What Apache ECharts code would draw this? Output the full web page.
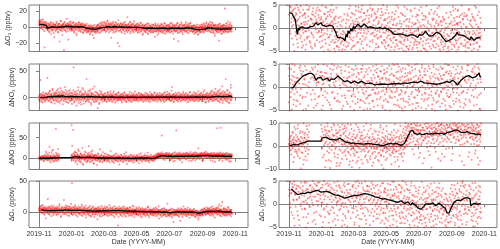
<!DOCTYPE html>
<html><head><meta charset="utf-8">
<script src="https://cdn.jsdelivr.net/npm/echarts@6/dist/echarts.min.js"></script>
<style>html,body{margin:0;padding:0;background:#fff}#c{width:500px;height:249px}</style>
</head><body><div id="c"></div>
<script>
// x positions are days since 2019-11-01
const tickDays = [0, 61, 121, 182, 243, 305, 366];
const tickLabels = ['2019-11', '2020-01', '2020-03', '2020-05', '2020-07', '2020-09', '2020-11'];
const sampleStepDays = 0.75;   // batch A at i*step, batch B at (i+0.5)*step

const o3Points = [
5.2,8.1,3.4,6.7,-1.2,4.5,9.3,2.1,0.4,7.2,3.8,-3.5,5.9,1.6,-25.1,4.3,2.7,-0.8,6.1,3.0,
-2.4,1.8,-4.1,0.6,3.9,-1.3,-6.2,2.5,-0.4,4.8,-8.3,1.1,-2.9,0.2,5.6,-3.7,-1.0,2.9,-12.4,0.8,
3.3,-4.6,1.4,-0.7,6.8,-2.2,0.9,-5.5,2.6,-1.8,4.1,-17.6,0.3,-3.1,2.0,7.4,-0.9,1.7,-4.3,3.6,
-1.5,2.8,-28.2,5.1,0.5,-3.8,3.2,-0.2,1.9,10.6,-2.6,4.4,-5.1,1.2,2.3,-0.6,6.3,-1.9,3.7,0.1,
-4.2,2.4,0.8,-2.7,5.4,-0.3,1.5,-6.4,3.1,-1.1,0.7,4.6,-3.3,2.2,-9.8,1.0,-0.5,3.5,-2.0,6.0,
0.6,-3.6,2.9,-1.4,4.0,-5.8,1.3,-0.1,3.4,-2.5,-7.1,0.9,2.1,-4.4,1.8,-1.7,-3.0,2.6,-6.6,-0.8,
-3.9,0.4,-5.2,-1.6,2.2,-4.7,-2.3,-8.9,0.7,-3.4,-1.2,-6.0,1.5,-2.8,-4.5,-0.6,-13.2,-2.1,3.0,-5.6,
-2.6,-7.3,0.2,-4.0,1.9,-1.5,-5.3,2.7,-0.9,-3.2,4.2,-1.8,0.5,-6.1,2.3,-2.4,5.7,-0.3,-4.1,1.6,
3.1,-2.0,0.8,6.4,-3.7,1.4,-0.6,4.7,-5.0,2.0,-1.3,8.2,0.3,-2.9,3.6,-0.2,1.1,-4.6,5.3,-1.0,
2.4,-3.4,0.6,4.9,-1.7,-6.8,1.8,3.3,-0.5,-2.4,6.1,0.2,-4.9,2.7,-1.2,1.0,-19.3,3.9,-0.7,2.1,
-23.4,1.5,-2.8,4.3,0.1,-5.4,2.5,-1.1,3.8,-3.0,0.7,5.6,-1.6,-7.7,1.9,-0.3,3.0,-4.2,2.2,-1.4,
12.3,-2.2,0.9,4.1,-3.9,1.2,-0.8,6.7,-5.7,2.8,-1.9,0.4,3.5,-3.3,-0.2,5.0,-6.3,1.7,-2.6,2.0,
-1.0,3.2,-4.4,0.6,-2.1,4.6,-6.9,1.1,-0.7,-3.6,2.4,-1.5,5.2,-4.8,0.0,-2.7,1.9,-9.4,3.4,-1.2,
-3.1,0.8,-5.6,-1.9,2.1,-4.0,-0.6,3.7,-2.5,-7.2,1.0,-3.8,-1.1,4.4,-5.1,-0.2,-2.9,1.6,-6.4,-1.7,
0.3,-4.3,-2.0,3.0,-6.0,-0.9,-3.5,1.4,-11.8,-2.4,2.6,-5.0,-1.3,0.5,-3.9,4.1,-2.2,-7.5,0.0,-4.6,
-1.6,2.0,-5.3,-0.4,-3.0,3.6,-6.7,-1.0,1.2,-4.2,-2.1,5.3,-3.6,-0.7,-8.1,0.9,-2.8,2.5,-5.9,-1.4,
-2.9,1.7,-4.9,0.2,-3.3,3.9,-1.2,-6.5,0.6,-2.3,4.5,-5.4,-0.8,1.9,-3.7,-14.6,2.7,-1.9,-4.4,0.4,
-0.6,-4.7,2.3,-2.6,5.1,-7.0,-17.2,1.0,-3.2,-0.3,3.4,-5.2,-1.7,0.8,-2.4,4.0,-6.1,-1.0,2.1,-3.6,
-1.8,3.1,-4.0,0.5,-2.7,6.2,-5.6,-0.4,1.6,-3.4,2.9,-1.2,-7.4,0.9,-2.0,4.7,-4.5,-0.7,1.3,-3.0,
-2.5,0.6,-5.5,-1.6,2.4,-4.1,-7.9,-0.9,1.8,-3.8,-6.2,0.1,-2.2,3.3,-5.0,-1.3,-8.7,0.4,-3.9,-2.7,
-4.8,0.9,-2.9,3.5,-6.3,-1.0,1.4,-3.5,-0.2,4.6,-5.3,-1.9,2.2,-4.0,0.7,-2.4,5.8,-1.5,-3.2,1.1,
-0.4,3.7,-4.6,1.2,-2.2,6.5,-1.0,-5.9,2.8,-3.3,0.3,4.9,-6.8,-1.6,2.0,-3.8,0.9,-10.5,3.2,-2.5,
-1.1,-5.0,2.6,-3.1,0.2,-6.6,1.9,-16.9,-2.0,4.2,-4.3,-0.8,1.5,-3.6,-7.3,0.6,-2.6,3.0,-5.4,-1.3,
2.3,-3.4,23.1,-1.0,-5.7,1.6,-2.1,4.4,-6.1,-0.5,-3.0,2.8,-4.7,0.0,-1.8,5.5,-3.9,-0.9,-2.4,1.2
];
const o3PointsB = [
2.9,6.4,-0.5,4.8,7.7,1.3,3.6,-2.2,5.5,9.8,0.7,4.1,2.4,-4.9,6.9,1.9,-1.6,3.2,5.0,-0.3,
1.5,-3.2,4.4,-0.9,2.0,-5.1,0.5,3.4,-2.1,6.3,-1.6,0.9,-4.2,2.7,-0.3,4.0,-7.0,1.3,-2.5,3.1,
-0.6,2.3,-3.5,5.0,0.1,-1.9,3.9,-6.4,1.6,-0.5,4.6,-2.8,0.6,7.9,-4.0,2.1,-1.2,3.0,-9.7,1.0,
4.3,-2.0,1.1,6.6,-3.4,2.5,0.0,-5.7,3.8,1.4,-1.0,5.2,-15.5,2.9,-0.8,4.0,-3.0,1.8,7.0,-1.7,
2.0,-0.9,4.9,-3.9,1.2,-1.5,6.0,-5.0,0.6,3.0,-2.4,1.9,-7.8,4.4,0.0,-1.3,2.6,-4.6,5.6,0.8,
-1.9,3.6,-4.9,0.9,2.5,-2.9,5.0,-0.6,1.5,-6.2,0.2,3.9,-3.1,-0.4,2.3,-5.0,1.0,-2.3,4.4,-3.8,
-0.8,-6.3,-2.7,1.3,-4.1,-0.2,-7.4,-1.8,2.5,-5.3,-3.0,0.4,-4.9,-9.6,-1.4,1.9,-3.6,-0.9,-5.8,-2.4,
-4.6,-1.2,1.0,-5.9,-2.9,3.1,-0.6,-3.8,1.7,-7.0,0.2,-2.0,4.8,-1.2,0.9,-4.5,3.3,-0.7,6.0,-2.7,
1.0,-3.8,5.1,-0.4,2.9,-5.9,0.8,3.8,-1.8,7.0,-3.1,1.4,-0.9,4.5,-6.5,2.3,0.1,-2.3,3.5,-13.0,
-0.4,4.1,-2.8,1.5,6.8,-4.3,0.9,-1.0,3.2,-6.0,2.0,5.2,-2.0,0.5,-3.6,3.6,-0.2,8.7,-5.1,1.3,
2.8,-3.9,0.4,5.0,-1.3,-6.9,2.9,0.1,-2.5,4.1,-0.9,1.6,-4.8,3.3,6.9,-1.8,0.6,-3.4,2.5,-5.8,
-0.6,3.6,-4.1,1.5,-2.0,5.8,-0.3,-7.4,2.2,-1.6,4.2,-3.0,0.8,-5.2,2.9,-0.9,7.6,-2.5,0.3,-4.0,
1.7,-3.0,-0.5,4.0,-5.5,2.1,-1.6,-3.8,3.3,0.2,-6.2,1.4,-2.3,5.6,-0.8,-4.1,2.5,-1.2,-7.9,0.7,
-2.1,1.8,-4.7,-0.7,3.0,-6.1,-2.6,0.6,-3.4,4.9,-1.3,-8.6,-0.2,2.4,-4.4,-1.6,1.0,-5.5,-2.9,3.3,
-3.2,0.9,-6.4,-1.1,2.8,-4.8,-0.3,-2.7,4.6,-5.6,-1.9,1.7,-3.9,-0.6,-9.2,2.0,-2.6,-4.4,0.5,-1.4,
1.4,-3.7,-0.9,3.9,-5.6,-2.0,0.4,-4.6,2.6,-1.2,-7.0,0.8,-3.1,4.3,-2.4,-5.2,1.1,-0.5,-3.6,2.9,
-4.2,-0.2,2.8,-6.0,-1.6,1.3,-3.0,5.4,-2.2,-4.9,0.3,-1.0,3.2,-7.8,-2.8,0.7,-4.3,1.9,-0.9,-5.7,
2.6,-3.3,-1.1,4.8,-5.0,0.1,-2.3,1.5,-6.9,-0.6,3.0,-3.9,-1.4,6.0,-4.4,0.4,-2.0,-8.5,1.8,-0.9,
-2.8,2.0,-5.3,0.0,3.6,-1.6,-4.2,1.1,-0.3,-6.6,4.3,-2.3,0.6,-3.8,2.4,-1.1,5.4,-4.9,-0.6,1.6,
-3.5,-0.2,-6.0,1.4,-2.9,-4.6,2.0,-1.8,-7.2,-0.4,-3.3,1.0,-5.4,-2.6,-9.0,0.0,-4.3,-1.6,2.3,-6.6,
-1.7,-5.8,1.0,-3.0,-0.5,2.9,-4.5,-2.2,0.6,-6.8,3.8,-1.1,-3.6,1.6,-0.3,4.2,-2.7,-5.0,0.9,2.5,
-2.6,0.7,4.0,-4.1,-0.8,2.4,-6.2,1.3,-2.0,5.9,-3.4,-0.1,3.1,-5.5,1.9,-1.7,-8.0,2.6,-0.6,-3.9,
-3.6,0.3,-6.0,-1.5,2.8,-4.2,-0.7,-2.9,3.9,-5.8,-1.2,0.9,-3.4,-8.3,1.7,-2.2,-4.8,0.2,2.4,-6.4,
-0.6,-4.4,1.9,-2.7,4.8,-5.1,-1.4,0.8,-3.2,7.1,-2.0,-6.0,0.3,-1.1,3.5,-4.0,-0.2,2.2,-5.6,-1.6
];
const no2Points = [
-3.2,4.1,-6.5,1.8,33.9,-1.1,7.2,-4.8,2.5,-9.3,0.6,5.4,-2.7,3.3,-7.6,1.2,8.5,-0.4,-4.1,2.0,
6.3,37.8,-3.0,9.1,1.4,-5.6,4.2,11.7,-1.8,3.6,-8.4,2.9,7.0,-2.3,14.2,0.7,-4.9,5.8,1.9,-11.5,
4.5,-2.1,10.3,2.6,-6.8,7.9,0.3,16.4,-3.9,5.2,1.1,-9.7,8.8,3.4,-1.5,12.6,-5.3,6.1,2.2,-13.0,
3.8,9.6,-4.4,1.5,19.8,-2.6,6.7,-7.9,2.8,0.4,11.2,-3.5,4.9,-10.6,1.0,7.4,-1.9,15.1,-5.8,3.2,
-0.7,8.2,-12.3,2.4,5.5,-4.0,58.1,0.8,-7.2,10.9,3.1,-2.2,6.4,-15.4,1.7,4.6,-1.3,13.5,-6.1,2.0,
-3.3,7.5,0.2,-8.8,12.4,2.9,-4.7,5.0,18.6,-1.0,3.7,-11.9,6.9,0.5,-2.4,9.3,-6.5,1.3,35.7,4.1,
-5.1,2.6,11.8,-2.9,6.2,-9.0,1.6,15.7,-0.2,4.3,-13.8,3.0,8.1,-4.6,0.9,5.7,-7.4,2.1,21.3,-1.7,
3.5,-6.2,0.4,9.7,-3.1,1.9,-20.4,6.0,-0.8,4.4,-10.1,2.3,12.9,-4.2,0.1,7.1,-2.0,3.9,-8.0,1.4,
5.6,-1.5,2.8,-5.4,0.7,8.4,-3.6,1.2,-7.3,4.0,-0.3,10.2,-2.5,3.1,-6.0,1.8,5.1,-4.3,0.2,6.8,
-2.7,3.3,-8.6,1.0,4.7,-1.2,12.1,-4.9,0.6,2.5,-3.4,7.6,-0.9,-6.7,3.8,1.3,-2.2,9.0,-5.2,0.0,
4.2,-1.8,0.9,-4.6,6.5,2.0,-9.2,1.5,-0.6,5.3,-3.0,2.7,8.9,-5.7,0.3,3.6,-1.4,-7.0,4.8,1.1,
-0.2,6.0,-3.9,2.2,-1.0,10.7,-6.3,1.7,3.5,-2.1,0.5,-8.0,4.5,1.9,-4.4,7.3,-0.7,2.9,-5.5,0.8,
3.0,-2.6,5.8,-0.4,1.6,-6.9,4.1,0.2,-3.2,8.0,1.4,-1.9,2.6,-5.0,6.3,-0.8,3.9,-2.3,0.7,-7.8,
5.0,1.2,-3.7,2.4,9.5,-1.1,0.6,-5.9,3.2,-0.3,6.7,-2.8,1.8,-4.0,4.4,0.9,-8.7,2.1,-1.5,7.1,
-0.6,3.4,-4.5,1.0,5.9,-2.4,0.4,10.4,-6.6,2.2,-1.3,4.0,-3.1,1.5,7.8,-0.1,-5.3,3.0,1.8,-2.0,
4.6,-3.8,0.7,2.9,-7.4,1.9,6.1,-1.0,3.6,-4.9,0.2,8.6,-2.2,1.3,-6.0,4.9,-0.5,2.5,-3.4,11.3,
0.9,-1.7,5.4,-4.1,2.0,7.0,-0.8,3.3,-5.8,1.6,20.2,-2.5,4.2,0.3,-8.1,6.4,1.1,-3.0,2.7,-1.2,
3.9,-0.4,6.9,-5.1,1.4,-2.7,9.8,0.5,-3.9,4.5,-1.6,2.3,-6.9,1.0,5.6,-0.9,3.1,-4.7,7.7,0.1,
-2.3,4.3,1.2,-5.5,2.8,8.3,-1.4,0.6,-3.3,5.1,-0.7,2.0,-7.6,3.7,1.5,-2.0,10.6,-4.2,0.9,2.4,
-1.0,6.6,-3.5,1.7,4.1,-6.2,2.6,-0.3,8.7,-2.9,1.2,5.0,-4.8,0.4,3.4,-1.9,12.4,-0.6,-5.6,2.9,
4.8,-2.1,1.6,9.2,-4.3,3.0,0.8,-7.1,6.2,1.9,-1.1,14.0,-3.6,2.2,5.4,-9.5,0.6,3.8,-2.4,7.3,
-0.3,4.5,-5.0,1.1,8.0,-1.7,2.9,11.6,-3.2,5.2,0.3,-6.4,3.9,9.9,-1.0,2.0,-4.4,6.7,16.8,1.4,
5.3,-2.6,8.4,1.0,-5.9,3.6,12.8,-0.5,4.8,-8.9,2.1,7.6,-3.1,10.0,0.8,21.7,-1.8,5.9,-6.0,3.3,
1.5,9.1,-3.9,4.4,35.2,-0.2,6.3,-7.5,2.7,13.3,-2.2,5.0,0.9,-10.7,7.8,3.1,-4.6,18.9,1.8,-1.3
];
const no2PointsB = [
2.4,-5.0,0.9,6.6,-2.1,3.9,-8.0,1.5,5.0,-0.6,10.2,-3.7,2.2,-1.4,4.7,-6.2,0.3,7.7,-2.8,1.1,
-1.0,5.3,2.0,-7.0,8.0,0.8,12.9,-3.6,4.6,-0.4,6.9,-9.9,2.6,16.7,-2.0,3.4,9.8,-5.5,1.6,7.2,
0.6,8.4,-4.7,3.7,13.8,-1.2,6.6,-8.1,2.9,10.6,0.0,5.5,-5.9,18.2,1.9,7.3,-2.7,4.2,11.0,-0.6,
6.2,-6.6,2.0,10.0,-1.4,4.4,14.6,-3.9,0.9,7.8,-9.0,3.5,1.2,-2.1,12.3,5.2,-7.0,2.4,8.9,-0.2,
3.3,-4.8,9.5,0.6,-1.7,14.3,4.9,-9.3,2.1,6.9,-0.9,11.8,-5.1,3.0,7.8,-2.8,1.4,19.6,-11.1,5.4,
0.5,10.8,-3.8,4.0,-13.4,2.2,8.3,-1.2,6.1,15.3,-5.6,1.0,4.7,-2.3,12.0,0.1,-8.2,6.5,2.8,-3.0,
7.4,-1.4,4.5,-6.3,2.0,13.1,-3.2,0.4,9.0,-10.2,3.6,6.7,-1.9,17.0,1.3,-4.0,5.1,0.6,-8.5,10.5,
-2.3,4.7,1.2,-7.0,8.6,0.0,-3.6,5.6,2.1,-12.2,3.2,-0.7,7.3,1.0,-5.1,10.8,-1.8,2.6,-3.0,6.0,
-0.8,3.7,-4.9,7.3,1.3,-2.0,4.6,-8.0,2.2,0.4,9.1,-3.2,5.9,-1.1,2.8,-6.5,0.9,11.8,-2.8,3.9,
1.6,-6.1,4.0,-0.5,8.2,-3.0,2.1,-1.5,5.8,-9.6,0.4,3.3,-2.4,6.2,-0.1,-4.6,2.8,10.1,-1.8,1.4,
-3.5,5.2,0.7,-1.6,3.6,-6.0,7.4,1.0,-2.9,4.5,-0.5,9.6,-4.2,2.0,-1.2,5.6,-8.3,0.8,3.1,-2.6,
4.0,-1.4,2.4,-5.6,0.5,6.4,-2.5,1.2,-7.6,3.4,8.7,-0.9,2.0,-4.0,5.2,0.0,-2.9,3.7,11.9,-1.5,
-4.9,2.0,6.6,-1.0,3.3,-3.0,0.8,9.2,-6.3,1.7,4.6,-0.4,-2.2,7.0,1.0,-5.1,2.9,-1.1,5.4,0.3,
2.6,-6.0,1.1,4.8,-2.1,0.4,7.9,-3.8,2.0,-0.8,5.0,-7.1,3.4,0.9,-1.7,10.9,-4.3,1.5,3.8,-2.5,
6.2,-0.9,2.3,-5.0,4.1,0.6,-2.9,8.8,1.3,-4.2,3.0,-1.0,5.7,-7.7,2.5,0.2,4.9,-3.3,1.4,9.3,
-2.6,3.3,-5.5,1.6,7.2,-1.5,4.3,0.1,-3.6,5.9,-8.6,2.2,0.6,10.1,-2.2,3.9,-4.5,1.3,6.6,-0.7,
5.0,-3.4,1.7,8.5,-1.0,3.6,-6.2,2.6,0.0,13.2,-4.4,4.8,-1.6,2.1,6.8,-7.3,1.0,3.4,-2.6,9.4,
-1.4,2.6,-4.6,5.2,0.8,-7.7,3.5,1.3,-2.3,8.1,-0.3,4.0,-5.4,1.9,6.2,-1.8,0.4,-3.7,11.0,2.3,
4.8,-2.8,0.7,6.9,-5.0,2.0,-1.2,3.9,-8.8,0.3,5.5,-3.0,1.8,9.7,-1.6,2.9,-6.1,0.5,4.4,-0.9,
1.9,-5.3,4.0,-0.4,10.3,-2.5,2.7,-7.2,6.0,0.9,-3.9,3.1,8.1,-1.3,1.5,-6.8,4.8,0.2,7.0,-2.1,
-4.0,3.5,7.9,-1.6,2.4,-6.9,5.1,0.5,11.2,-2.9,4.3,-0.2,1.7,-8.4,6.4,2.8,-3.1,9.4,0.9,-1.2,
3.0,-7.8,1.9,5.8,-2.8,0.7,8.8,-4.2,3.3,13.4,-1.3,4.4,-5.8,2.3,7.4,-0.8,10.5,-3.5,5.1,1.6,
-3.8,6.8,2.5,11.5,-1.2,4.7,-7.2,9.0,1.6,15.6,-2.7,5.6,0.2,-5.0,8.2,3.4,-9.9,12.1,4.0,-0.6,
6.4,-2.1,10.7,2.9,-6.3,5.5,0.4,14.6,-3.7,7.1,1.7,-8.8,4.2,9.9,-1.6,3.8,24.0,-4.8,6.0,1.1
];
const noPoints = [
1.2,-0.8,3.5,0.3,2.1,-1.5,4.6,0.9,-0.2,2.8,5.7,-6.8,1.6,3.9,0.1,-2.4,7.3,1.0,16.1,2.4,
-3.1,4.0,0.5,9.2,-1.2,2.7,28.4,-5.2,1.8,6.4,0.0,12.7,-2.6,3.3,1.1,20.9,-7.9,2.2,5.1,-0.6,
3.6,-4.4,70.2,1.9,8.7,-1.0,4.9,11.5,-3.3,2.5,6.2,null,null,null,null,null,null,null,null,null,
null,null,null,null,null,null,null,null,null,null,null,null,null,null,null,null,null,null,null,null,
4.1,79.6,7.5,-0.9,2.6,67.8,12.3,5.0,-3.7,8.4,1.3,15.2,-6.1,6.8,3.2,-13.5,9.9,0.7,4.5,18.0,
-2.8,6.3,1.5,-9.4,10.6,3.0,-1.6,7.1,25.4,0.2,-14.8,4.4,2.0,8.9,-4.5,1.2,13.7,-0.5,5.6,-7.2,
3.9,11.0,-3.6,6.0,29.1,1.8,-8.3,8.2,4.7,-1.9,15.9,2.3,-5.4,9.4,0.6,-11.0,5.3,2.9,-2.4,7.7,
0.9,-4.0,6.6,2.1,-15.6,3.8,-0.7,9.6,1.4,-2.9,4.9,22.0,-6.6,1.0,3.1,-1.4,7.4,-9.0,0.3,2.6,
-0.6,5.2,-3.2,1.7,12.1,-1.8,3.4,0.4,-7.0,4.3,1.2,-2.5,8.3,0.0,-4.8,2.2,6.0,-1.1,17.4,1.5,
3.0,-5.8,0.8,4.6,-1.5,2.0,-10.2,6.9,0.1,-2.2,3.6,1.1,-3.9,9.8,0.5,-0.9,5.3,-6.9,2.4,1.3,
-1.9,3.9,0.6,-4.3,7.6,1.0,-0.4,2.7,-8.4,4.0,-2.6,0.3,11.4,-1.2,2.9,-5.0,1.6,6.2,-0.7,-12.9,
2.1,-0.5,4.8,-3.0,1.0,-6.4,3.2,0.4,8.1,-1.6,-4.1,2.5,0.0,5.7,-2.2,1.4,-9.6,3.6,-0.9,1.8,
-0.3,4.4,-2.7,1.9,6.5,-5.2,0.8,3.0,-1.4,10.2,0.5,-3.5,2.6,-0.8,5.0,1.3,-7.7,3.8,0.2,-2.0,
2.9,-1.1,7.0,0.4,-4.6,3.5,1.0,-2.4,5.8,-0.2,13.6,-5.9,1.5,2.2,-1.8,4.1,-3.3,0.6,8.8,-0.5,
1.7,-2.9,3.3,0.0,6.1,-6.2,1.9,4.7,-0.8,2.8,8.3,3.6,0.9,6.9,11.2,2.4,7.8,4.0,9.5,1.1,
8.6,5.2,12.4,3.1,7.9,55.0,9.7,4.4,6.8,10.9,2.0,8.1,-3.4,6.3,11.8,5.6,9.0,0.7,7.2,13.4,
4.8,8.7,1.9,6.4,10.3,-4.8,5.9,3.3,9.2,7.0,0.4,11.6,4.1,6.9,-7.3,8.0,2.6,5.4,14.7,3.7,
6.7,67.1,4.2,9.9,1.2,7.5,5.0,12.8,-2.2,8.3,3.9,6.1,10.6,0.1,7.7,4.6,-9.1,9.3,5.8,2.8,
8.0,3.4,11.1,6.2,-0.8,9.6,5.1,7.3,13.9,2.3,6.6,10.0,4.3,-5.4,8.5,5.5,12.2,1.6,7.0,9.1,
4.5,7.8,-3.2,10.7,6.0,2.1,8.9,5.7,15.0,3.0,7.4,11.5,-1.1,6.5,9.3,4.0,24.6,8.2,5.2,10.4,
2.9,9.0,6.3,12.6,4.7,8.1,-6.0,7.6,11.0,5.4,9.8,3.6,14.3,7.2,6.1,10.5,1.4,8.7,12.0,6.6,
9.4,4.2,7.9,10.8,2.4,6.8,-4.0,8.6,5.1,13.1,7.1,3.3,9.7,0.8,6.4,11.3,4.9,-8.2,8.4,5.9,
7.3,10.1,3.8,72.0,6.9,9.2,1.7,5.3,12.4,8.0,-2.6,73.3,6.2,4.0,10.9,7.7,-5.8,9.0,3.1,6.5,
5.4,8.8,1.0,6.7,11.7,3.5,-1.8,7.9,4.6,9.5,2.2,-4.9,6.0,8.3,0.5,5.8,10.2,-6.3,4.1,7.0
];
const noPointsB = [
0.6,2.9,-1.9,4.2,1.1,-3.6,2.0,0.2,6.1,-0.9,3.0,1.5,-4.7,8.4,0.8,2.6,-1.4,4.9,11.8,-2.3,
1.9,7.6,-4.2,3.1,0.3,14.4,-1.8,5.6,2.2,-9.6,4.0,1.0,18.7,-2.9,6.0,0.7,9.9,-5.8,3.7,1.4,
5.8,-2.0,13.0,2.7,-6.0,7.3,0.9,22.5,3.9,-1.5,9.0,null,null,null,null,null,null,null,null,null,
null,null,null,null,null,null,null,null,null,null,null,null,null,null,null,null,null,null,null,null,
9.1,2.3,30.4,6.2,-4.7,11.0,3.9,0.4,16.3,7.1,-9.0,4.8,1.9,13.2,5.6,-2.1,8.6,21.7,3.4,-5.9,
6.6,-0.9,3.8,12.0,-6.4,2.7,8.1,0.5,-11.6,5.1,1.9,9.6,-3.0,4.6,16.8,-1.2,3.1,6.9,-8.5,2.0,
5.6,-4.9,9.1,2.6,13.9,-1.4,6.9,3.4,-7.2,10.7,4.5,0.9,19.4,-2.8,7.3,2.1,-12.7,5.9,1.2,8.8,
-1.6,4.4,0.0,7.8,-5.5,2.3,12.6,-2.3,3.6,0.9,-8.0,5.7,1.6,-3.8,9.2,0.4,-1.0,4.2,15.0,-6.1,
2.8,-1.1,6.7,0.5,-4.1,3.7,1.3,9.4,-2.7,0.1,5.1,-6.3,2.4,-0.6,7.2,1.0,-9.2,3.5,0.7,4.5,
-2.3,5.9,1.4,-7.4,3.1,0.2,8.6,-1.3,2.2,-4.5,11.9,0.7,-0.8,4.2,-5.9,2.0,0.9,-2.6,6.7,-14.0,
3.6,0.1,-5.5,2.3,9.2,-1.0,1.5,-3.2,5.3,0.6,-7.1,3.1,-0.6,6.8,1.2,-2.4,14.8,-4.3,2.0,0.4,
-1.2,3.3,-5.9,0.8,6.1,-2.7,1.6,-0.3,9.0,-3.8,2.4,-8.1,0.5,4.0,-1.5,7.3,-4.4,1.1,-0.6,3.0,
2.3,-5.9,0.7,8.7,-2.2,3.9,-0.9,1.4,-11.3,5.3,0.0,-1.7,3.0,12.6,-4.0,1.6,6.0,-2.8,2.5,-0.4,
-3.0,4.6,0.5,-1.5,9.5,-6.8,2.0,0.8,-2.2,4.0,1.2,-4.6,6.7,0.0,-8.7,3.2,1.7,-1.0,5.0,-3.6,
0.8,4.3,-4.5,2.2,-1.5,7.4,0.2,-3.0,3.6,5.7,-0.6,9.9,2.3,5.1,0.4,8.6,13.0,3.3,6.4,10.8,
4.2,10.2,6.9,1.6,9.3,14.7,5.0,8.0,-1.2,11.4,6.3,3.4,9.8,7.4,0.6,12.9,5.8,8.9,2.4,6.9,
9.9,3.0,7.1,12.3,0.9,5.7,8.8,-2.9,6.5,10.9,4.4,1.3,8.1,5.1,13.3,2.5,7.0,-5.2,9.6,4.9,
3.2,8.5,11.7,5.6,-0.5,7.8,4.1,9.7,2.0,14.2,6.3,-3.8,8.8,5.3,10.2,1.4,7.3,4.4,12.4,6.0,
10.6,4.8,1.3,8.3,6.4,13.0,-2.4,7.6,5.0,9.9,3.1,11.4,6.9,0.8,8.9,4.7,15.6,6.1,-6.2,9.4,
6.2,9.7,3.4,12.9,0.2,7.2,10.9,5.5,-4.5,8.4,4.8,13.6,6.7,1.9,9.1,7.7,3.2,11.2,5.9,-0.9,
8.3,11.9,5.0,9.6,1.8,13.8,7.4,10.3,-3.3,6.8,12.7,8.9,4.1,10.0,16.2,6.5,9.2,2.9,11.1,7.9,
5.7,11.6,8.3,2.8,9.9,6.0,12.8,0.6,7.6,10.4,4.6,-6.6,8.9,6.2,13.9,3.9,9.3,7.0,1.2,11.0,
4.9,8.6,12.6,6.3,2.2,10.7,7.8,-4.5,9.4,5.1,14.1,3.6,8.2,11.3,0.9,6.8,9.9,4.2,13.0,7.2,
8.1,2.7,10.6,5.1,-3.1,7.4,12.9,3.9,6.2,0.3,9.0,4.8,11.2,-7.8,6.6,3.0,8.7,1.9,5.7,9.8
];
const oxPoints = [
5.6,1.9,8.4,3.0,-0.7,6.2,2.5,10.1,4.4,-2.3,3.7,7.0,0.8,4.9,-4.6,2.2,5.8,-10.4,3.4,1.1,
4.0,-1.5,21.3,2.7,6.6,-3.4,1.3,8.1,3.5,-0.4,5.2,-6.9,2.0,7.5,0.6,3.9,-2.8,9.4,1.7,4.6,
-1.1,6.3,2.9,-5.0,4.7,0.2,8.6,3.2,-2.1,5.5,1.4,12.7,-0.6,4.1,2.3,-7.8,6.9,0.9,3.6,-3.7,
5.0,1.6,19.5,-1.9,4.4,7.7,2.8,-4.3,6.0,0.7,3.9,9.8,-0.3,5.3,2.1,-6.2,4.8,8.2,1.2,3.5,
-2.6,6.5,46.8,0.4,4.2,-3.8,7.3,2.4,-0.9,5.7,10.9,1.8,-5.4,3.1,6.1,0.0,4.5,-1.6,8.9,2.6,
-4.0,4.3,1.0,7.4,-1.3,3.6,12.2,0.5,-6.5,5.1,2.2,-0.8,8.0,3.0,-3.2,6.4,1.5,-9.1,4.0,0.3,
2.9,-2.4,6.8,0.7,-5.6,4.1,1.3,9.6,-1.0,3.4,-7.4,5.9,0.1,2.6,-3.5,7.2,1.7,-0.6,4.6,-4.4,
3.8,0.2,-3.0,6.0,1.9,-11.8,4.3,2.5,-1.4,8.3,0.8,-5.2,3.1,5.6,-0.2,2.0,-7.1,6.6,1.3,3.7,
-1.8,5.1,0.6,9.0,-3.9,2.7,4.8,-0.5,1.5,-6.0,7.1,2.2,-2.3,3.9,0.4,11.4,-4.7,1.0,5.7,-1.0,
2.4,-5.6,4.5,0.0,7.8,-2.0,3.1,1.1,-8.5,5.3,2.8,-0.7,6.2,-3.4,1.6,4.0,-22.3,2.9,-1.5,8.4,
0.7,3.8,-4.5,6.0,1.2,-1.8,4.6,-7.0,2.4,0.3,9.3,-2.6,3.5,1.0,-5.9,5.4,-0.4,2.2,-3.1,7.0,
-1.0,4.2,0.9,-6.3,3.0,1.6,-2.2,6.9,0.1,-4.0,2.6,-0.8,10.3,-3.5,1.4,4.5,-1.7,-8.8,2.9,0.5,
3.4,-2.9,0.6,5.6,-5.0,1.9,-0.5,3.0,-3.6,8.1,0.2,-1.5,4.2,-7.3,1.1,-0.9,6.4,-2.4,2.0,-4.4,
0.9,-3.3,4.8,-1.0,2.3,-6.7,0.4,3.7,-2.2,1.5,-4.8,7.6,-0.6,2.6,-9.2,1.2,-1.9,4.1,-3.0,0.0,
2.7,-1.6,-5.5,3.4,0.3,-2.8,6.2,-0.9,1.8,-4.1,0.6,4.7,-7.6,1.0,-1.3,3.3,-3.5,9.1,-0.2,-2.0,
1.4,-4.4,2.5,-0.7,-8.1,3.9,-2.4,0.8,5.6,-1.7,-5.3,1.9,-0.2,4.0,-3.2,0.3,-6.6,2.8,-1.4,13.2,
-3.1,0.6,-5.9,2.3,-1.6,-4.0,3.7,-2.7,-0.5,-7.0,1.4,-3.4,4.8,-1.1,-16.5,0.9,-2.6,2.6,-5.0,-0.1,
0.5,-2.9,3.1,-4.6,1.3,-1.0,5.9,-6.1,0.0,2.2,-3.3,-14.2,1.8,-0.8,4.4,-2.1,-8.3,0.7,3.0,-1.5,
-3.6,1.1,-0.4,4.6,-2.4,-6.4,0.9,2.7,-4.3,-1.2,6.8,-0.6,-3.0,1.7,-9.7,3.5,-1.8,0.2,-5.1,2.0,
-1.0,2.9,-4.0,0.4,-2.2,5.3,-6.8,-1.5,1.0,-3.6,-8.6,-0.7,2.1,-4.9,-2.6,0.9,-12.6,-3.8,-0.3,-5.7,
-2.3,1.5,-6.1,-0.6,3.4,-3.0,0.5,-5.1,2.7,-1.0,5.2,-2.6,0.3,4.1,-4.0,1.8,-0.8,7.4,-2.9,2.4,
-0.5,4.5,-3.3,1.4,6.6,-1.8,2.8,-6.0,0.7,3.9,-2.4,9.0,1.1,-4.3,5.0,0.0,2.2,-8.9,3.6,-1.2,
4.2,-1.9,2.0,7.3,-3.8,1.0,5.4,-0.6,12.4,-5.5,2.5,-1.4,3.8,0.1,-7.1,16.1,-2.7,0.9,4.5,-3.6,
1.3,-2.4,5.5,-0.7,-4.8,2.0,-1.2,3.6,-6.4,0.4,8.2,-2.9,1.1,-0.3,4.0,-5.2,1.7,-1.6,2.6,-3.0
];
const oxPointsB = [
3.1,7.3,0.2,4.8,9.6,2.3,-1.7,5.9,3.6,11.4,1.0,6.5,-3.0,4.2,8.0,2.0,-0.5,5.2,3.3,7.6,
0.9,5.5,-2.4,3.8,8.8,1.6,-4.5,6.1,2.4,0.1,4.7,10.6,-1.1,3.0,6.9,-5.2,2.8,0.5,5.9,-0.9,
4.9,0.8,7.1,-2.8,3.3,5.8,1.2,-4.1,6.4,2.5,9.9,-0.4,4.0,1.7,-6.6,5.2,3.0,8.3,0.3,2.8,
-0.2,6.8,3.2,-3.4,5.9,1.6,10.4,4.1,-1.6,7.2,2.2,-5.9,4.6,0.6,8.6,3.1,-2.3,6.1,1.9,13.5,
5.3,0.3,3.6,-4.9,7.9,2.1,-1.2,5.0,1.1,9.0,-2.8,4.3,6.7,-0.5,2.9,-7.5,5.4,1.5,3.9,-2.0,
7.0,-2.1,2.9,5.5,-5.0,1.8,9.4,-0.6,3.4,-3.7,6.1,0.9,-1.9,4.7,2.4,10.6,-4.5,1.3,5.8,-0.2,
0.5,4.9,-3.4,2.0,7.6,-1.3,3.7,-6.4,1.0,5.3,-0.4,2.8,-4.7,8.7,0.3,-2.1,4.1,-8.2,2.5,6.0,
-2.5,1.4,5.3,-0.6,3.0,-4.8,7.0,1.1,-1.7,4.4,2.3,-7.6,5.8,0.5,-3.0,9.5,1.7,-0.8,3.9,-5.4,
4.2,-0.9,2.1,-4.4,6.3,0.7,3.4,-2.8,8.4,1.3,-1.4,5.0,-6.6,2.6,0.0,4.5,-3.1,7.3,1.6,-0.3,
-3.2,5.6,1.9,-0.8,3.6,-6.3,2.2,9.1,0.4,-2.5,4.9,1.2,-4.2,6.6,2.8,-1.1,3.9,-8.0,5.1,0.9,
2.7,-2.4,5.6,0.0,-5.2,3.3,1.6,7.8,-1.0,4.2,-3.6,0.8,6.4,-1.6,2.4,-7.7,3.9,0.2,5.3,-2.1,
0.4,5.5,-3.0,2.3,-0.5,7.7,-5.4,1.8,3.9,-1.3,0.7,-6.7,4.5,1.1,-2.0,8.9,-0.9,2.6,-4.2,3.4,
-1.9,2.5,6.9,-3.2,0.6,-0.9,4.4,-6.0,2.1,0.0,-2.6,5.2,-4.6,1.5,3.1,-8.5,0.9,-1.4,4.9,1.8,
-2.4,3.1,-0.4,-5.6,1.9,5.9,-1.6,0.4,-3.7,3.2,8.5,-0.9,-6.2,1.7,4.2,-2.6,0.6,-4.1,2.4,-0.2,
3.7,-4.0,0.8,-1.9,5.0,-6.3,1.3,-0.5,2.9,-3.1,7.1,0.1,-2.6,4.2,-5.5,1.5,-0.9,3.0,-10.9,1.0,
-1.2,3.0,-5.0,0.5,-2.3,4.7,-0.9,-6.1,2.0,-3.6,0.8,6.0,-2.0,-4.6,1.6,-0.6,3.5,-7.4,0.2,-2.8,
1.6,-4.8,-0.8,3.0,-6.6,-1.9,1.1,-3.4,5.7,-2.3,-8.9,0.0,-4.2,2.1,-1.2,-5.8,3.6,-0.6,-3.1,1.2,
-4.0,2.7,-1.1,0.6,-5.7,4.0,-2.2,1.4,-7.9,0.2,3.6,-3.8,-0.6,6.2,-2.7,1.0,-4.9,2.2,-1.3,8.8,
0.9,-4.6,2.6,-1.0,5.1,-3.2,-0.2,-7.0,1.5,3.6,-2.5,0.3,-5.5,2.3,-1.4,4.5,-3.8,0.6,-0.9,-6.1,
-3.0,1.6,-0.8,-5.3,3.4,-2.1,0.0,-7.6,-1.2,2.3,-4.5,-0.3,-3.2,1.3,-6.2,-1.8,-9.9,0.6,-4.0,-2.2,
-5.2,-0.9,2.2,-3.7,0.9,-1.5,4.2,-6.2,-0.1,2.0,-2.3,6.3,-0.6,1.3,-4.5,3.2,0.4,-2.2,5.4,-1.1,
2.2,-2.6,5.5,0.2,-4.9,3.2,1.0,-1.5,7.4,-3.4,2.6,-0.4,4.6,-6.6,1.6,3.9,-2.1,0.8,6.2,-0.9,
-0.3,5.9,-4.4,2.9,0.8,-2.1,8.7,1.7,-1.2,4.1,-6.2,2.2,10.0,-0.6,3.2,-3.4,1.4,-1.9,6.2,-4.8,
3.0,-0.5,-6.1,1.6,4.6,-2.0,0.5,-3.7,2.3,-1.1,6.4,-4.2,0.0,2.8,-2.7,1.0,-7.6,3.7,-0.8,-1.8
];

const o3TrendDays = [1,2.5,4,6,8,10,12,14,15.5,17,18,19,21,23,25,27,29,32,35,39,42,45,48,51,54,57,60,63,66,70,73,76,79,82,85,88,91,94,97,101,103,105,107,109,111,113,116,118,121,123,126,129,132,135,138,141,144,147,150,154,157,160,163,166,170,175,180,185,188,191,194,197,200,203,208,213,217,222,225,228,231,235,238,241,244,247,250,253,256,259,263,266,269,273,277,280,284,287,291,294,297,300,303,306,309,312,315,317,320,323,325,328,331,335,339,341,343,346,348,352,355,359];
const o3Trend = [3.3,3.6,3.0,3.2,2.6,2.9,1.8,1.5,-1.3,-0.5,0.1,-0.4,0.2,-0.2,0.3,-0.1,0.1,0.5,0.0,0.3,0.7,0.4,0.8,1.2,0.7,1.0,1.2,0.6,0.9,0.4,0.1,0.6,0.2,0.5,-0.3,-1.0,-2.0,-1.8,-2.0,-2.2,-1.9,-2.7,-1.3,-1.9,-0.6,-1.1,-0.1,-0.6,0.5,-0.1,0.2,0.9,0.8,0.2,0.3,0.9,0.5,0.2,0.6,0.3,0.6,0.1,0.4,0.0,0.2,-0.1,0.1,-0.2,0.1,-0.6,-0.9,-1.3,-1.1,-1.3,-1.2,-1.3,-1.5,-1.7,-1.3,-1.4,-1.7,-1.5,-1.8,-2.0,-1.4,-1.0,-1.5,-1.7,-0.6,-1.2,-1.7,-1.3,-1.6,-1.2,-0.8,-1.1,-1.3,-1.9,-2.4,-2.9,-3.1,-2.6,-2.7,-2.2,-2.4,-1.5,-0.8,-1.4,-1.2,-1.5,-1.7,-1.6,-2.0,-2.2,-2.5,-1.8,-2.1,-2.6,-2.2,-2.1,-2.0,-2.0];
const no2TrendDays = [3,5,7.5,10,12,14,17,20,23,26,29,32,35.5,38,40,42,44,47,49,51,54,57,60,63.5,67,71.5,74,76,79,82,85,88,92,95,98,101,104,107,110,113,116,119.5,123,126,129,132,136,140,144,147.5,152,157,161,166,172,178.6,185,191,197,203.5,210,216,222,228,234,241,244,247,250,253,259,266,272,278,283,287.5,292,297,301,306,310,313,315.5,318,322,326,331,334,337,340,343.5,347,350,353,356,358,360];
const no2Trend = [-0.15,0.1,-0.15,0.3,0.6,1.0,1.3,1.7,1.9,2.4,2.3,2.7,2.6,3.0,2.6,3.0,3.1,2.6,2.0,1.5,2.0,1.75,2.1,1.5,1.7,2.0,1.6,1.3,1.8,1.5,1.7,2.0,2.4,2.3,1.8,1.5,1.2,1.0,1.4,1.2,0.9,0.8,1.3,1.2,0.9,0.8,1.3,1.0,0.8,0.6,0.9,0.7,0.5,0.6,0.7,0.65,0.55,0.7,0.75,0.8,0.7,0.95,0.85,1.0,1.1,1.0,1.2,1.3,1.1,0.95,0.9,0.8,0.7,0.65,0.8,0.9,1.1,1.2,1.0,1.5,1.2,0.8,0.45,0.9,1.5,1.9,2.3,2.0,2.5,2.3,2.0,2.4,2.3,2.0,3.0,2.2,2.3];
const noTrendDays = [1,3,5,7.5,9,10.5,13,15,17,20,23,26,29,32,35.5,60,62,63.5,66,68,70,73,76,79,82,85,88,91.5,95,98,101,104,107,111,116,120,124,129,135,141,147,154,160,166,170,175.5,179,182,186,191,195,200,205,210,213,216,219,222,225,227,229,231.5,233,234.6,238,241,245,249,253,258,262,266,270,274,278,282,286,290.6,294,297,300,303,306,309,312,315,318.6,322,325,328,331,334,337,340,343,346,350,354,357,360];
const noTrend = [0.4,0.9,0.3,0.4,0.8,1.2,0.6,1.0,0.7,1.0,1.3,1.7,1.6,1.4,2.2,2.2,3.6,4.1,3.7,4.5,3.9,3.4,3.0,2.6,2.9,2.2,2.6,3.1,3.5,4.1,2.6,2.0,1.6,1.8,1.2,1.5,1.0,1.2,1.0,0.9,1.2,1.0,0.8,0.7,0.5,0.15,0.5,0.7,1.0,1.2,0.9,1.3,0.8,0.4,0.8,1.2,2.4,4.1,5.2,6.3,6.8,7.0,6.3,5.5,5.3,5.1,5.4,5.0,5.1,5.6,5.2,5.4,5.2,5.7,5.5,5.3,5.6,5.1,5.5,6.0,5.7,6.2,6.3,6.8,7.4,7.0,6.6,6.0,5.5,5.9,6.2,6.3,5.8,5.5,5.9,5.4,5.1,5.3,5.0,4.8];
const oxTrendDays = [4.4,6,7.5,10,13.7,16,20,23,26,30,35.5,40,45,49,54,57,60,63,66.6,70,73,76,79,82,85,88,92,95,97.7,101,104,107,110,113,116,119.5,124,129,133,138,142,147.5,152,157,161,166,170,175.5,180,185,189,194,198,203.5,207,210,213,216,219,223,225,228,231,234.6,238,241,244,247,250,253,256,259.5,263,266,269,272,275,278,281,284,287,290.6,293,295.6,298,300,303,306,309,312,315,318.6,322,325,328,331,334,337,339,340.5,341.6,344,346.6,350,353,356,359];
const oxTrend = [3.3,3.4,3.0,2.7,2.4,2.1,2.2,2.5,2.4,2.3,2.6,2.5,2.7,2.9,3.0,2.9,2.6,2.8,2.7,2.5,2.7,2.6,2.4,2.2,2.0,1.85,1.9,1.6,1.7,1.4,1.3,1.7,1.5,1.85,1.7,2.0,1.9,1.85,2.0,2.2,2.3,2.2,2.0,1.85,1.6,1.5,1.3,1.1,1.2,1.0,0.9,0.75,0.6,0.4,0.8,0.75,0.4,0.2,0.6,0.5,0.1,-0.2,0.3,0.2,-0.3,-0.75,-0.9,-1.1,-0.7,-0.4,0.1,0.4,0.0,-0.2,0.3,0.2,-0.3,-0.2,0.2,0.0,-0.4,-0.2,-0.9,-1.85,-1.7,-1.85,-1.0,-0.2,0.4,0.75,0.9,1.1,0.8,1.0,1.3,1.25,1.4,1.5,1.2,-0.3,-0.5,0.1,0.2,-0.1,0.0,0.1,0.2];

const panelNames = ['ΔO₃ (ppbv)', 'ΔNO₂ (ppbv)', 'ΔNO (ppbv)', 'ΔOₓ (ppbv)'];
const leftRanges = [[-29.9, 27.4], [-24.8, 64.5], [-26.2, 84.8], [-25.4, 50.5]];
const leftTicks = [[-20, 0, 20], [0, 50], [0, 50], [0, 50]];
const rightRanges = [[-5, 5], [-5, 5], [-10, 10], [-5, 5]];
const rightTicks = [[-5, 0, 5], [-5, 0, 5], [-10, 0, 10], [-5, 0, 5]];

const pointSets = [[o3Points, o3PointsB], [no2Points, no2PointsB], [noPoints, noPointsB], [oxPoints, oxPointsB]];
const trendSets = [[o3TrendDays, o3Trend], [no2TrendDays, no2Trend], [noTrendDays, noTrend], [oxTrendDays, oxTrend]];

const chart = echarts.init(document.getElementById('c'), null, {renderer: 'canvas'});
const FONT = 'Liberation Sans, Arial, sans-serif';
const frame = '#7f7f7f';
const tops = [5, 64, 123, 181];
const grids = [], xAxes = [], yAxes = [], series = [];
const fmtNum = v => (v < 0 ? '\u2212' + Math.abs(v) : String(v));
for (let r = 0; r < 4; r++) {
  for (let c = 0; c < 2; c++) {
    const gi = grids.length;
    grids.push({left: c === 0 ? 29 : 279, width: c === 0 ? 219 : 218, top: tops[r], height: 46.5,
      show: true, borderColor: frame, borderWidth: 1, backgroundColor: 'transparent'});
    const bottom = r === 3;
    xAxes.push({type: 'value', gridIndex: gi, min: -18.6, max: 389.5,
      axisLine: {show: true, lineStyle: {color: frame, width: 1}},
      axisTick: {show: true, length: 3, customValues: tickDays, lineStyle: {color: frame}},
      axisLabel: {show: bottom, customValues: tickDays, fontSize: 7, color: '#333', fontFamily: FONT, margin: 3,
        formatter: v => tickLabels[tickDays.indexOf(v)] || ''},
      splitLine: {show: false},
      name: bottom ? 'Date (YYYY-MM)' : '', nameLocation: 'middle', nameGap: 11,
      nameTextStyle: {fontSize: 7, color: '#333', fontFamily: FONT}});
    const rng = c === 0 ? leftRanges[r] : rightRanges[r];
    const tks = c === 0 ? leftTicks[r] : rightTicks[r];
    yAxes.push({type: 'value', gridIndex: gi, min: rng[0], max: rng[1],
      axisLine: {show: true, lineStyle: {color: frame, width: 1}},
      axisTick: {show: true, length: 3, customValues: tks, lineStyle: {color: frame}},
      axisLabel: {customValues: tks, fontSize: 7, color: '#333', fontFamily: FONT, margin: 2, formatter: fmtNum},
      splitLine: {show: false},
      name: panelNames[r], nameLocation: 'middle', nameGap: 11,
      nameTextStyle: {fontSize: 7, color: '#333', fontFamily: FONT}});
    const pts = [];
    pointSets[r].forEach((arr, b) => arr.forEach((v, i) => {
      if (v !== null) pts.push([(i + b * 0.5) * sampleStepDays, v]);
    }));
    series.push({type: 'scatter', xAxisIndex: gi, yAxisIndex: gi, data: pts, symbolSize: 2,
      itemStyle: {color: 'rgba(255,0,0,0.55)'}, silent: true, clip: true});
    const [td, tv] = trendSets[r];
    series.push({type: 'line', xAxisIndex: gi, yAxisIndex: gi, data: td.map((d, i) => [d, tv[i]]),
      showSymbol: false, lineStyle: {color: '#000', width: 1.3}, silent: true, clip: true});
  }
}
chart.setOption({animation: false, grid: grids, xAxis: xAxes, yAxis: yAxes, series: series});
</script></body></html>
